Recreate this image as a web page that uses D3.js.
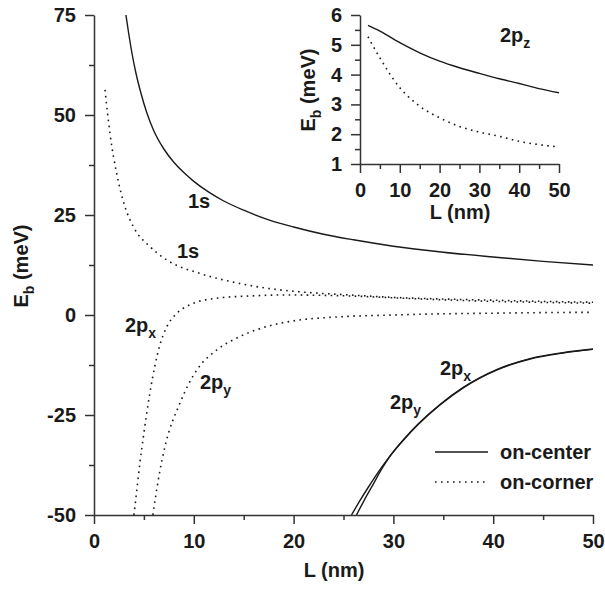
<!DOCTYPE html>
<html><head><meta charset="utf-8">
<script src="https://cdn.jsdelivr.net/npm/d3@7"></script>
<style>
body{margin:0;background:#fff}
text{font-family:"Liberation Sans",Arial,Helvetica,sans-serif;font-weight:bold;fill:#1a1a1a}
</style>
</head><body>
<svg id="chart" width="605" height="589"></svg>
<script>
// ---------- main panel data (L in nm, Eb in meV) ----------
const centerL_1s = [3.2, 3.5, 3.8, 4.2, 4.7, 5.3, 6, 7, 8, 9, 10, 11.5, 13, 15, 17.5, 20, 23, 26, 30, 35, 40, 45, 50];
const centerE_1s = [75, 70, 65.5, 60.5, 55.5, 50.5, 46, 41.5, 38.2, 35.6, 33.4, 30.7, 28.5, 26.2, 23.8, 22, 20.2, 18.8, 17.2, 15.7, 14.5, 13.4, 12.5];

const centerL_2px = [25.8, 26.6, 27.5, 28.5, 29.5, 31, 32.5, 34.7, 37, 40.4, 43.7, 47, 50];
const centerE_2px = [-50, -46.6, -43, -39.2, -35.8, -31.2, -27.2, -22.3, -18.1, -13.6, -10.9, -9.4, -8.5];

const centerL_2py = [26.3, 27.1, 28.0, 28.8, 29.6, 31, 32.5, 34.7, 37, 40.4, 43.7, 47, 50];
const centerE_2py = [-50, -46.2, -42.2, -38.6, -35.5, -31.3, -27.3, -22.4, -18.2, -13.7, -11.0, -9.5, -8.6];

const cornerL_1s = [1.1, 1.6, 2.27, 3.1, 3.94, 5.6, 7.3, 10.6, 14, 17.3, 20.6, 25.7, 30, 35, 40, 45, 50];
const cornerE_1s = [56.3, 45.4, 35.4, 27.1, 22.1, 17.1, 13.75, 10.4, 8.2, 6.7, 5.8, 5.0, 4.4, 4.0, 3.7, 3.4, 3.2];

const cornerL_2px = [4.0, 4.3, 4.6, 5.0, 5.6, 6.6, 7.3, 8.3, 9.95, 12.3, 15.6, 19, 25.7, 30, 35, 40, 45, 50];
const cornerE_2px = [-50, -43.5, -37, -29.5, -19.5, -7.5, -2.9, 0.4, 2.9, 4.2, 4.75, 5.0, 4.75, 4.3, 3.8, 3.4, 3.15, 2.95];

const cornerL_2py = [5.9, 6.2, 6.6, 7.1, 8.6, 10.3, 12.3, 14.6, 17.3, 20.6, 23.6, 30, 35, 40, 45, 50];
const cornerE_2py = [-50, -45, -39, -33, -22.1, -13.75, -8.75, -5.4, -2.9, -1.25, -0.6, 0.0, 0.3, 0.45, 0.6, 0.67];

// ---------- inset data (2pz) ----------
const insetL_center = [2, 5, 10, 15, 20, 25, 30, 35, 40, 45, 50];
const insetE_center = [5.65, 5.46, 5.07, 4.73, 4.45, 4.23, 4.04, 3.86, 3.70, 3.53, 3.39];
const insetL_corner = [2, 5, 10, 15, 20, 25, 30, 35, 40, 45, 50];
const insetE_corner = [5.27, 4.56, 3.56, 2.94, 2.55, 2.26, 2.07, 1.93, 1.76, 1.65, 1.57];

// ---------- ticks ----------
const mainXTicks = [0, 10, 20, 30, 40, 50];
const mainXMinor = [5, 15, 25, 35, 45];
const mainYTicks = [-50, -25, 0, 25, 50, 75];
const mainYMinor = [-37.5, -12.5, 12.5, 37.5, 62.5];
const insetXTicks = [0, 10, 20, 30, 40, 50];
const insetXMinor = [5, 15, 25, 35, 45];
const insetYTicks = [1, 2, 3, 4, 5, 6];
const insetYMinor = [1.5, 2.5, 3.5, 4.5, 5.5];

const legendLabels = ["on-center", "on-corner"];

// ---------- drawing ----------
const svg = d3.select("#chart");
const ink = "#1a1a1a";
const dotted = "1.6,4.4";
const fmt = d => String(d);   // plain hyphen-minus like the original

const zip = (a, b) => a.map((v, i) => [v, b[i]]);

function axisStyle(g) {
  g.selectAll("path.domain").attr("stroke", "#333").attr("stroke-width", 1.5);
  g.selectAll(".tick line").attr("stroke", "#333").attr("stroke-width", 1.5);
  g.selectAll(".tick text").attr("font-size", 20).attr("fill", ink)
    .attr("font-family", '"Liberation Sans",Arial,sans-serif').attr("font-weight", "bold");
}

function drawPanel(opt) {
  const x = d3.scaleLinear().domain(opt.xd).range(opt.xr);
  const y = d3.scaleLinear().domain(opt.yd).range(opt.yr);
  const g = svg.append("g");
  g.append("g").attr("transform", `translate(0,${opt.yr[0]})`)
    .call(d3.axisBottom(x).tickValues(opt.xMinor).tickSize(5).tickFormat("").tickSizeOuter(0))
    .call(axisStyle).select("path.domain").remove();
  g.append("g").attr("transform", `translate(${opt.xr[0]},0)`)
    .call(d3.axisLeft(y).tickValues(opt.yMinor).tickSize(5).tickFormat("").tickSizeOuter(0))
    .call(axisStyle).select("path.domain").remove();
  g.append("g").attr("transform", `translate(0,${opt.yr[0]})`)
    .call(d3.axisBottom(x).tickValues(opt.xTicks).tickSize(9).tickPadding(10).tickSizeOuter(0).tickFormat(fmt))
    .call(axisStyle);
  g.append("g").attr("transform", `translate(${opt.xr[0]},0)`)
    .call(d3.axisLeft(y).tickValues(opt.yTicks).tickSize(9).tickPadding(opt.yPad).tickSizeOuter(0).tickFormat(fmt))
    .call(axisStyle);
  const cid = "clip" + opt.id;
  svg.append("clipPath").attr("id", cid).append("rect")
    .attr("x", opt.xr[0]).attr("y", opt.yr[1])
    .attr("width", opt.xr[1] - opt.xr[0]).attr("height", opt.yr[0] - opt.yr[1]);
  const line = d3.line().x(d => x(d[0])).y(d => y(d[1])).curve(d3.curveMonotoneX);
  const cg = g.append("g").attr("clip-path", `url(#${cid})`);
  opt.series.forEach(s => {
    cg.append("path").attr("d", line(zip(s.L, s.E)))
      .attr("fill", "none").attr("stroke", ink)
      .attr("stroke-width", s.dash ? 1.6 : 1.4)
      .attr("stroke-dasharray", s.dash ? dotted : null);
  });
  return {x, y, g};
}

const main = drawPanel({
  id: "main", xd: [0, 50], xr: [94, 593], yd: [-50, 75], yr: [515, 15],
  xTicks: mainXTicks, xMinor: mainXMinor, yTicks: mainYTicks, yMinor: mainYMinor, yPad: 9,
  series: [
    {L: centerL_1s, E: centerE_1s},
    {L: centerL_2px, E: centerE_2px},
    {L: centerL_2py, E: centerE_2py},
    {L: cornerL_1s, E: cornerE_1s, dash: true},
    {L: cornerL_2px, E: cornerE_2px, dash: true},
    {L: cornerL_2py, E: cornerE_2py, dash: true}
  ]
});

const inset = drawPanel({
  id: "inset", xd: [0, 50], xr: [360, 559], yd: [1, 6], yr: [164, 15],
  xTicks: insetXTicks, xMinor: insetXMinor, yTicks: insetYTicks, yMinor: insetYMinor, yPad: 9,
  series: [
    {L: insetL_center, E: insetE_center},
    {L: insetL_corner, E: insetE_corner, dash: true}
  ]
});

// ---------- labels ----------
function label(px, py, main, sub, size) {
  const t = svg.append("text").attr("x", px).attr("y", py).attr("font-size", size || 20);
  t.append("tspan").text(main);
  if (sub) t.append("tspan").attr("font-size", 14).attr("dy", 6).text(sub);
  return t;
}
svg.append("text").attr("x", 334).attr("y", 577).attr("text-anchor", "middle").attr("font-size", 20).text("L (nm)");
svg.append("text").attr("x", 460).attr("y", 219).attr("text-anchor", "middle").attr("font-size", 20).text("L (nm)");
function yTitle(cx, cy) {
  const t = svg.append("text").attr("transform", `translate(${cx},${cy}) rotate(-90)`)
    .attr("text-anchor", "middle").attr("font-size", 20);
  t.append("tspan").text("E");
  t.append("tspan").attr("font-size", 14).attr("dy", 6).text("b");
  t.append("tspan").attr("dy", -6).text(" (meV)");
}
yTitle(28, 266);
yTitle(315, 90);

label(188, 208, "1s");
label(177, 258, "1s");
label(125, 332, "2p", "x");
label(200, 389, "2p", "y");
label(440, 375, "2p", "x");
label(390, 409, "2p", "y");
label(500, 42, "2p", "z");

const legY = [452, 482];
legendLabels.forEach((name, i) => {
  svg.append("line").attr("x1", 435).attr("x2", 488).attr("y1", legY[i]).attr("y2", legY[i])
    .attr("stroke", ink).attr("stroke-width", i ? 1.6 : 1.4)
    .attr("stroke-dasharray", i ? dotted : null);
  svg.append("text").attr("x", 500).attr("y", legY[i] + 7).attr("font-size", 20).text(name);
});
</script>
</body></html>
